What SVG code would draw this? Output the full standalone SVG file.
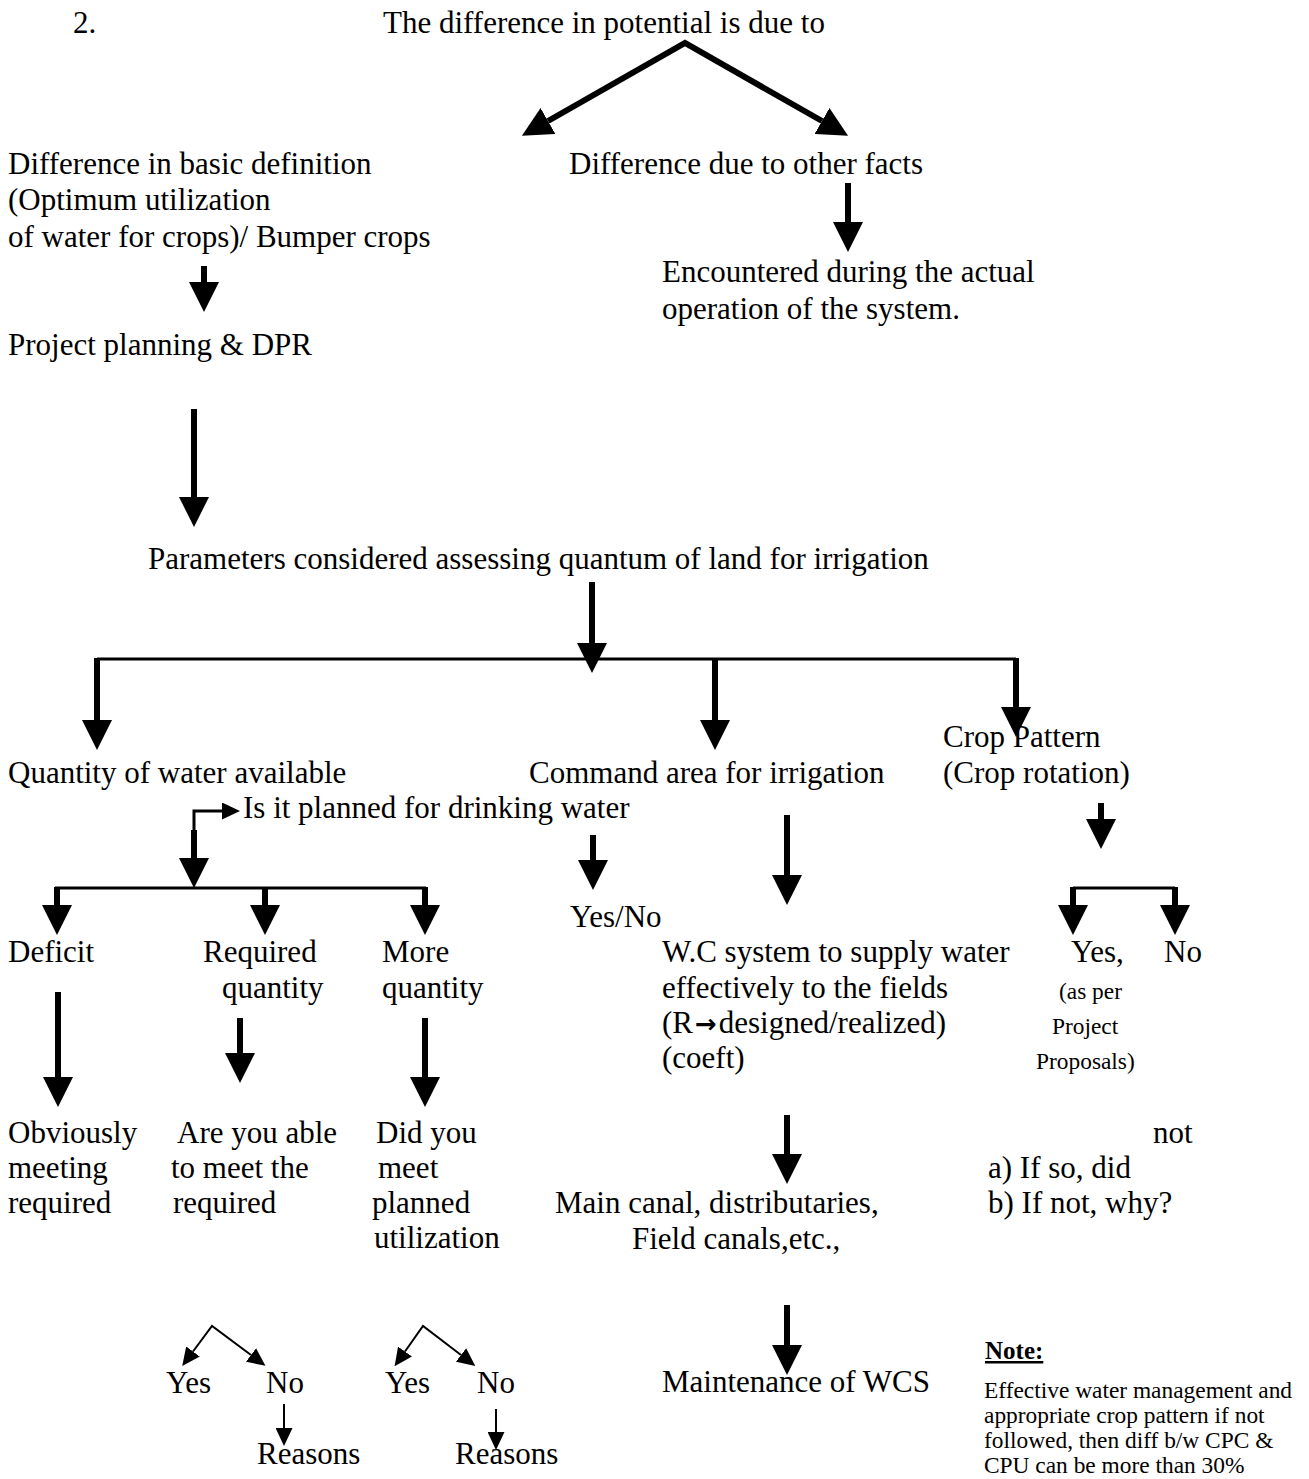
<svg xmlns="http://www.w3.org/2000/svg" width="1309" height="1479" viewBox="0 0 1309 1479">
<defs>
<style>
text{font-family:"Liberation Serif","Times New Roman",serif;font-size:31px;fill:#000}
.sm{font-size:23.4px}
.note{font-size:25px;font-weight:bold;text-decoration:underline}
.arr{font-family:"DejaVu Sans",sans-serif;font-weight:bold;font-size:26px}
.thick{stroke:#000;stroke-width:6;fill:none}
.bar{stroke:#000;stroke-width:3;fill:none}
.thin{stroke:#000;stroke-width:2;fill:none}
</style>
<marker id="big" viewBox="0 0 30 30" markerWidth="30" markerHeight="30" markerUnits="userSpaceOnUse" refX="0" refY="15" orient="auto-start-reverse"><path d="M0,0 L30,15 L0,30 z" fill="#000"/></marker>
<marker id="small" viewBox="0 0 18 17" markerWidth="18" markerHeight="17" markerUnits="userSpaceOnUse" refX="0" refY="8.5" orient="auto-start-reverse"><path d="M0,0 L18,8.5 L0,17 z" fill="#000"/></marker>
</defs>
<rect width="1309" height="1479" fill="#fff"/>

<g id="connectors">
<path class="thick" d="M548,121 L685,43 L822,121" marker-start="url(#big)" marker-end="url(#big)" stroke-linejoin="miter"/>
<line class="thick" x1="848" y1="183" x2="848" y2="222" marker-end="url(#big)"/>
<line class="thick" x1="204" y1="266" x2="204" y2="282" marker-end="url(#big)"/>
<line class="thick" x1="194" y1="409" x2="194" y2="497" marker-end="url(#big)"/>
<line class="thick" x1="592" y1="582" x2="592" y2="643" marker-end="url(#big)"/>
<line class="bar" x1="97" y1="659" x2="1016" y2="659"/>
<line class="thick" x1="97" y1="658" x2="97" y2="720" marker-end="url(#big)"/>
<line class="thick" x1="715" y1="658" x2="715" y2="720" marker-end="url(#big)"/>
<line class="thick" x1="1016" y1="658" x2="1016" y2="707" marker-end="url(#big)"/>
<path class="bar" d="M194,858 L194,811 L222,811" marker-end="url(#small)"/>
<line class="thick" x1="194" y1="830" x2="194" y2="858" marker-end="url(#big)"/>
<line class="bar" x1="55" y1="888" x2="426" y2="888"/>
<line class="thick" x1="57" y1="887" x2="57" y2="905" marker-end="url(#big)"/>
<line class="thick" x1="265" y1="887" x2="265" y2="905" marker-end="url(#big)"/>
<line class="thick" x1="425" y1="887" x2="425" y2="905" marker-end="url(#big)"/>
<line class="thick" x1="593" y1="835" x2="593" y2="860" marker-end="url(#big)"/>
<line class="thick" x1="787" y1="815" x2="787" y2="875" marker-end="url(#big)"/>
<line class="thick" x1="1101" y1="803" x2="1101" y2="819" marker-end="url(#big)"/>
<line class="bar" x1="1073" y1="888" x2="1175" y2="888"/>
<line class="thick" x1="1073" y1="887" x2="1073" y2="905" marker-end="url(#big)"/>
<line class="thick" x1="1175" y1="887" x2="1175" y2="905" marker-end="url(#big)"/>
<line class="thick" x1="58" y1="992" x2="58" y2="1077" marker-end="url(#big)"/>
<line class="thick" x1="240" y1="1018" x2="240" y2="1053" marker-end="url(#big)"/>
<line class="thick" x1="425" y1="1018" x2="425" y2="1077" marker-end="url(#big)"/>
<line class="thick" x1="787" y1="1115" x2="787" y2="1154" marker-end="url(#big)"/>
<line class="thick" x1="787" y1="1305" x2="787" y2="1345" marker-end="url(#big)"/>
<path class="thin" d="M193,1351.5 L212,1326 L251,1355" marker-start="url(#small)" marker-end="url(#small)"/>
<path class="thin" d="M405,1351.5 L423,1326 L461,1355" marker-start="url(#small)" marker-end="url(#small)"/>
<line class="thin" x1="284" y1="1404" x2="284" y2="1428" marker-end="url(#small)"/>
<line class="thin" x1="496" y1="1409" x2="496" y2="1432" marker-end="url(#small)"/>
</g>

<g id="n-num"><text x="73" y="33">2.</text></g>
<g id="n-root"><text x="383" y="33">The difference in potential is due to</text></g>
<g id="n-basic"><text x="8" y="174">Difference in basic definition</text><text x="8" y="210">(Optimum utilization</text><text x="8" y="247">of water for crops)/ Bumper crops</text></g>
<g id="n-other"><text x="569" y="174">Difference due to other facts</text></g>
<g id="n-encountered"><text x="662" y="282">Encountered during the actual</text><text x="662" y="319">operation of the system.</text></g>
<g id="n-dpr"><text x="8" y="355">Project planning &amp; DPR</text></g>
<g id="n-params"><text x="148" y="569">Parameters considered assessing quantum of land for irrigation</text></g>
<g id="n-quantity"><text x="8" y="783">Quantity of water available</text></g>
<g id="n-command"><text x="529" y="783">Command area for irrigation</text></g>
<g id="n-crop"><text x="943" y="747">Crop Pattern</text><text x="943" y="783">(Crop rotation)</text></g>
<g id="n-drinking"><text x="243" y="818">Is it planned for drinking water</text></g>
<g id="n-yesno"><text x="570" y="927">Yes/No</text></g>
<g id="n-deficit"><text x="8" y="962">Deficit</text></g>
<g id="n-required"><text x="203" y="962">Required</text><text x="222" y="998">quantity</text></g>
<g id="n-more"><text x="382" y="962">More</text><text x="382" y="998">quantity</text></g>
<g id="n-wc"><text x="662" y="962">W.C system to supply water</text><text x="662" y="998">effectively to the fields</text><text x="662" y="1033">(R<tspan class="arr" dx="2">&#8594;</tspan><tspan dx="2">designed/realized)</tspan></text><text x="662" y="1068">(coeft)</text></g>
<g id="n-cyes"><text x="1071" y="962">Yes,</text><text class="sm" x="1059" y="999">(as per</text><text class="sm" x="1052" y="1034">Project</text><text class="sm" x="1036" y="1069">Proposals)</text></g>
<g id="n-cno"><text x="1164" y="962">No</text></g>
<g id="n-obviously"><text x="8" y="1143">Obviously</text><text x="8" y="1178">meeting</text><text x="8" y="1213">required</text></g>
<g id="n-able"><text x="177" y="1143">Are you able</text><text x="171" y="1178">to meet the</text><text x="173" y="1213">required</text></g>
<g id="n-did"><text x="376" y="1143">Did you</text><text x="378" y="1178">meet</text><text x="372" y="1213">planned</text><text x="374" y="1248">utilization</text></g>
<g id="n-ifso"><text x="1153" y="1143">not</text><text x="988" y="1178">a) If so, did</text><text x="988" y="1213">b) If not, why?</text></g>
<g id="n-canal"><text x="555" y="1213">Main canal, distributaries,</text><text x="632" y="1249">Field canals,etc.,</text></g>
<g id="n-maint"><text x="662" y="1392">Maintenance of WCS</text></g>
<g id="n-yes1"><text x="166" y="1393">Yes</text></g>
<g id="n-no1"><text x="266" y="1393">No</text></g>
<g id="n-yes2"><text x="385" y="1393">Yes</text></g>
<g id="n-no2"><text x="477" y="1393">No</text></g>
<g id="n-reasons1"><text x="257" y="1464">Reasons</text></g>
<g id="n-reasons2"><text x="455" y="1464">Reasons</text></g>
<g id="n-note"><text class="note" x="985" y="1359">Note:</text><text class="sm" x="984" y="1398">Effective water management and</text><text class="sm" x="984" y="1423">appropriate crop pattern if not</text><text class="sm" x="984" y="1448">followed, then diff b/w CPC &amp;</text><text class="sm" x="984" y="1473">CPU can be more than 30%</text></g>
</svg>
